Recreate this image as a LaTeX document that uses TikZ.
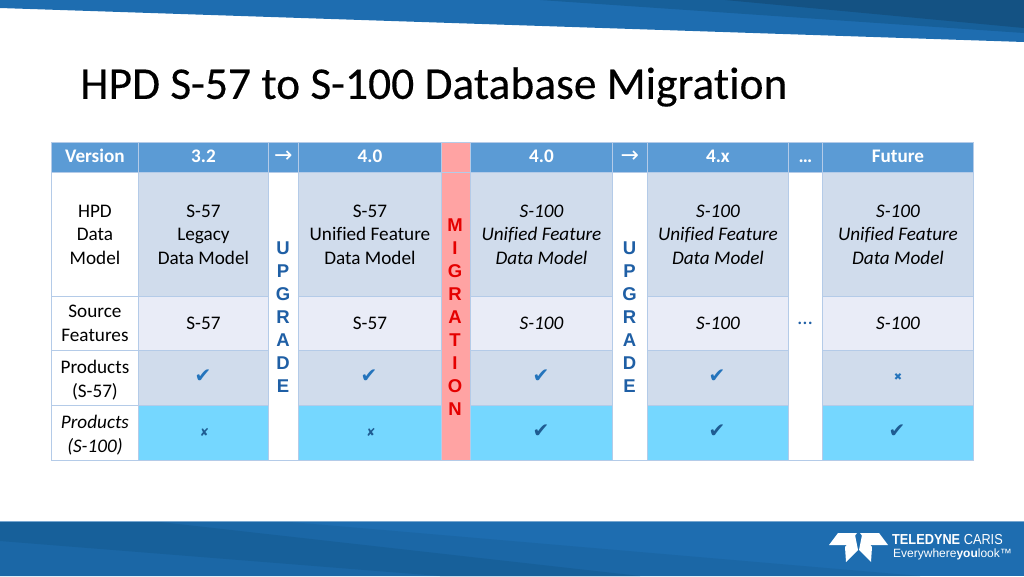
\documentclass[tikz,border=0pt]{standalone}
\usepackage{fontspec}
\setmainfont[RawFeature=-liga]{Carlito}
\newfontfamily\titlefont[RawFeature=-liga,FakeBold=0.25]{Carlito}
\newfontfamily\symbfont{DejaVu Sans}
\newfontfamily\letterfont{Liberation Sans}
\usetikzlibrary{positioning}
\definecolor{lhead}{HTML}{5B9BD5}
\definecolor{lline}{HTML}{B4CBE8}
\definecolor{lcell}{HTML}{D0DCEC}
\definecolor{lpale}{HTML}{E9ECF7}
\definecolor{lcyan}{HTML}{75D7FF}
\definecolor{lpink}{HTML}{FFA3A3}
\definecolor{lband}{HTML}{1E6DB0}
\definecolor{mband}{HTML}{1B67A6}
\definecolor{dband}{HTML}{17609A}
\definecolor{dblue}{HTML}{1F5FA5}
\definecolor{lmark}{HTML}{2474BC}
\definecolor{dmark}{HTML}{1F5C92}
\tikzset{
  cell/.style={draw=lline,line width=0.9pt,inner sep=0pt,align=center,font=\fontsize{19.2}{23.5}\selectfont,text=black},
  headcell/.style={cell,fill=lhead,text=white,font=\fontsize{19.2}{23}\selectfont\bfseries},
  vletters/.style={font=\letterfont\fontsize{18.5}{23}\selectfont\bfseries,align=center,inner sep=0pt},
  checkmark/.style={font=\symbfont\fontsize{20}{20}\selectfont,inner sep=0pt,text=lmark},
  crossmark/.style={font=\symbfont\fontsize{11}{11}\selectfont,inner sep=0pt,text=dmark}
}
\newcommand{\putcell}[7]{% name, x0, y0, x1, y1, fill, text
  \node[cell,fill=#6,minimum width=#4-#2,minimum height=#5-#3,anchor=north west] (#1) at (#2,#3) {#7};}
\newcommand{\puthead}[5]{% name, x0, x1, fill, text
  \node[headcell,fill=#4,minimum width=#3-#2,minimum height=30,anchor=north west] (#1) at (#2,142) {\strut #5};}
\begin{document}
\begin{tikzpicture}[x=1pt,y=-1pt]
    \useasboundingbox (0,0) rectangle (1024,576);
    % bands
    \fill[lband] (0,0) -- (1024,0) -- (1024,42) -- (0,8) -- cycle;
    \fill[dband] (540,0) -- (1024,0) -- (1024,33) -- cycle;
    \fill[dband!85!black] (725,0) -- (1024,0) -- (1024,28) -- cycle;
    \fill[lband] (0,522) rectangle (1024,576);
    \fill[mband] (0,522) -- (290,522) -- (920,576) -- (0,576) -- cycle;
    \fill[dband] (0,522) -- (160,522) -- (640,576) -- (440,576) -- (0,541) -- cycle;
    \draw[lband!60!white,line width=0.8pt] (0,521.5) -- (1024,521.5);
    % title
    \node[anchor=west,inner sep=0pt,font=\titlefont\fontsize{45.5}{48}\selectfont] (title) at (80,87) {HPD S-57 to S-100 Database Migration};
    % header row
    \puthead{hversion}{51}{138}{lhead}{Version}
    \puthead{hold}{138}{268}{lhead}{3.2}
    \puthead{harrowa}{268}{298}{lhead}{\symbfont\mdseries\fontsize{22}{22}\selectfont →}
    \puthead{hunified}{298}{441}{lhead}{4.0}
    \puthead{hmigr}{441}{470}{lpink}{}
    \puthead{hnew}{470}{612}{lhead}{4.0}
    \puthead{harrowb}{612}{647}{lhead}{\symbfont\mdseries\fontsize{22}{22}\selectfont →}
    \puthead{hnext}{647}{788}{lhead}{4.x}
    \puthead{hdots}{788}{822}{lhead}{…}
    \puthead{hfuture}{822}{973}{lhead}{Future}
    % row labels
    \putcell{lmodel}{51}{172}{138}{296}{white}{HPD\\Data\\Model}
    \putcell{lsource}{51}{296}{138}{350}{white}{Source\\Features}
    \putcell{lfiftyseven}{51}{350}{138}{405}{white}{\rule{0pt}{18pt}Products\\(S-57)}
    \putcell{lhundred}{51}{405}{138}{460}{white}{\rule{0pt}{18pt}\itshape Products\\\itshape (S-100)}
    % gaps between the versions
    \putcell{gapa}{268}{172}{298}{460}{white}{}
    \putcell{gapb}{441}{172}{470}{460}{lpink}{}
    \putcell{gapc}{612}{172}{647}{460}{white}{}
    \putcell{gapd}{788}{172}{822}{460}{white}{}
    % data model row
    \putcell{moda}{138}{172}{268}{296}{lcell}{S-57\\Legacy\\Data Model}
    \putcell{modb}{298}{172}{441}{296}{lcell}{S-57\\Unified Feature\\Data Model}
    \putcell{modc}{470}{172}{612}{296}{lcell}{\itshape S-100\\\itshape Unified Feature\\\itshape Data Model}
    \putcell{modd}{647}{172}{788}{296}{lcell}{\itshape S-100\\\itshape Unified Feature\\\itshape Data Model}
    \putcell{mode}{822}{172}{973}{296}{lcell}{\itshape S-100\\\itshape Unified Feature\\\itshape Data Model}
    % source row
    \putcell{srca}{138}{296}{268}{350}{lpale}{S-57}
    \putcell{srcb}{298}{296}{441}{350}{lpale}{S-57}
    \putcell{srcc}{470}{296}{612}{350}{lpale}{\itshape S-100}
    \putcell{srcd}{647}{296}{788}{350}{lpale}{\itshape S-100}
    \putcell{srce}{822}{296}{973}{350}{lpale}{\itshape S-100}
    % products rows
    \foreach \name/\xa/\xb in {a/138/268,b/298/441,c/470/612,d/647/788,e/822/973}{
        \putcell{pra\name}{\xa}{350}{\xb}{405}{lcell}{}
        \putcell{prb\name}{\xa}{405}{\xb}{460}{lcyan}{}
    }
    \node[checkmark] (marka) at (203,376.5) {✔};
    \node[checkmark] (markb) at (369,376.5) {✔};
    \node[checkmark] (markc) at (541,376.5) {✔};
    \node[checkmark] (markd) at (717,376.5) {✔};
    \node[crossmark,text=lmark,font=\symbfont\fontsize{10}{10}\selectfont] (marke) at (898,377) {✖};
    \node[crossmark] (markf) at (204.5,432) {✘};
    \node[crossmark] (markg) at (371,432) {✘};
    \node[checkmark,text=dmark] (markh) at (541,431.5) {✔};
    \node[checkmark,text=dmark] (marki) at (717,431.5) {✔};
    \node[checkmark,text=dmark] (markj) at (897,431.5) {✔};
    % vertical words
    \node[vletters,text=dblue] (upa) at (283,317) {U\\P\\G\\R\\A\\D\\E};
    \node[vletters,text=red!90!black] (migr) at (455,317) {M\\I\\G\\R\\A\\T\\I\\O\\N};
    \node[vletters,text=dblue] (upb) at (629.5,317) {U\\P\\G\\R\\A\\D\\E};
    \node[text=dblue,inner sep=0pt,font=\fontsize{21}{21}\selectfont] (moredots) at (805,323) {…};
    % logo
    \fill[white] (829,545) -- (838,533) -- (857,533) -- (848,545) -- cycle;
    \fill[white] (888,545) -- (879,533) -- (860,533) -- (869,545) -- cycle;
    \fill[white] (845,547) -- (855,535) -- (858,550) -- (846,562) -- cycle;
    \fill[white] (872,547) -- (862,535) -- (859,550) -- (871,562) -- cycle;
    \node[anchor=west,inner sep=0pt,text=white,xscale=0.88,font=\letterfont\fontsize{14.5}{15}\selectfont] (logoa) at (892,539.5) {\textbf{TELEDYNE} CARIS};
    \node[anchor=west,inner sep=0pt,text=white,font=\letterfont\fontsize{12}{13}\selectfont] (logob) at (893,554.5) {Everywhere\textbf{you}look™};
\end{tikzpicture}
\end{document}
